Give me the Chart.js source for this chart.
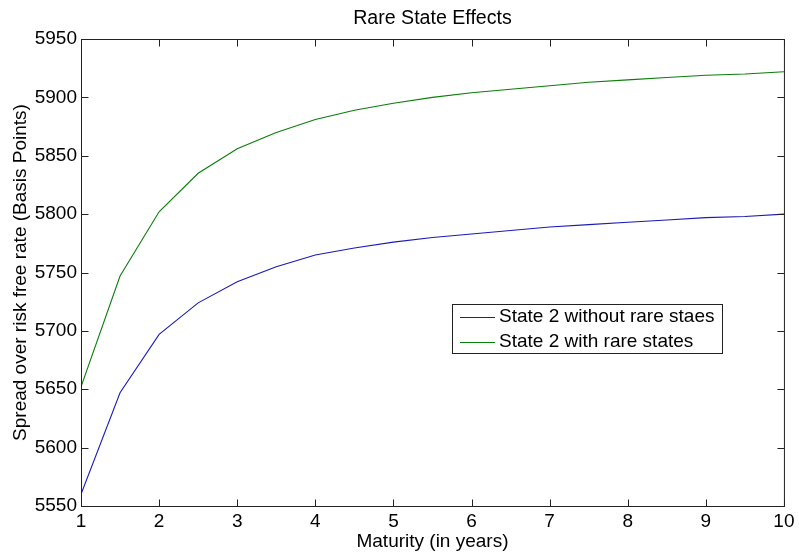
<!DOCTYPE html>
<html><head><meta charset="utf-8">
<script src="https://cdn.jsdelivr.net/npm/chart.js@4/dist/chart.umd.min.js"></script>
<style>html,body{margin:0;padding:0;background:#fff;}canvas{display:block;}</style>
</head><body>
<canvas id="c" width="799" height="553"></canvas>
<script>
const maturities = [1,1.5,2,2.5,3,3.5,4,4.5,5,5.5,6,6.5,7,7.5,8,8.5,9,9.5,10];
const withoutRare = [5560,5647,5697,5724,5742,5755,5765,5771,5776,5780,5783,5786,5789,5791,5793,5795,5797,5798,5800];
const withRare = [5652,5747,5802,5835,5856,5870,5881,5889,5895,5900,5904,5907,5910,5913,5915,5917,5919,5920,5922];
const xTicks = [1,2,3,4,5,6,7,8,9,10];
const yTicks = [5550,5600,5650,5700,5750,5800,5850,5900,5950];
const seriesLabels = ['State 2 without rare staes','State 2 with rare states'];
const chartTitle = 'Rare State Effects';

const FONT = "'Liberation Sans', Arial, Helvetica, sans-serif";

const boxPlugin = {
  id: 'matlabBox',
  afterDatasetsDraw(chart) {
    const {ctx, chartArea: a, scales} = chart;
    ctx.save();
    ctx.strokeStyle = '#222';
    ctx.lineWidth = 1;
    const L = a.left + 0.5, R = a.right + 0.5, T = a.top + 0.5, B = a.bottom + 0.5;
    ctx.strokeRect(L, T, R - L, B - T);
    const tl = 7;
    ctx.beginPath();
    scales.x.ticks.forEach(t => {
      const px = Math.round(scales.x.getPixelForValue(t.value)) + 0.5;
      ctx.moveTo(px, B); ctx.lineTo(px, B - tl);
      ctx.moveTo(px, T); ctx.lineTo(px, T + tl);
    });
    scales.y.ticks.forEach(t => {
      const py = Math.round(scales.y.getPixelForValue(t.value)) + 0.5;
      ctx.moveTo(L, py); ctx.lineTo(L + tl, py);
      ctx.moveTo(R, py); ctx.lineTo(R - tl, py);
    });
    ctx.stroke();

    // title centred over the axes
    ctx.fillStyle = '#000';
    ctx.font = '19.6px ' + FONT;
    ctx.textAlign = 'center';
    ctx.textBaseline = 'middle';
    ctx.fillText(chartTitle, (a.left + a.right) / 2, 19);

    // legend box
    ctx.textAlign = 'left';
    ctx.font = '19px ' + FONT;
    const ds = chart.data.datasets;
    const bx = 452.5, by = 304.5, rowH = 25.5, lineLen = 35;
    const textX = bx + 7.5 + lineLen + 4;
    let maxW = 0;
    ds.forEach(d => { maxW = Math.max(maxW, ctx.measureText(d.label).width); });
    const bw = Math.round(textX + maxW + 8 - bx);
    const bh = 49;
    ctx.fillStyle = '#fff';
    ctx.fillRect(bx, by, bw, bh);
    ctx.strokeStyle = '#222';
    ctx.strokeRect(bx, by, bw, bh);
    ds.forEach((d, i) => {
      const cy = by + 12 + i * rowH;
      ctx.strokeStyle = d.borderColor;
      ctx.beginPath();
      ctx.moveTo(bx + 7.5, Math.round(cy) + 0.5);
      ctx.lineTo(bx + 7.5 + lineLen, Math.round(cy) + 0.5);
      ctx.stroke();
      ctx.fillStyle = '#000';
      ctx.fillText(d.label, textX, cy);
    });
    ctx.restore();
  }
};

new Chart(document.getElementById('c'), {
  type: 'line',
  data: {
    datasets: [
      { label: seriesLabels[0], data: maturities.map((m, i) => ({x: m, y: withoutRare[i]})),
        borderColor: '#1a1ab8', borderWidth: 1.1, pointRadius: 0, tension: 0, fill: false },
      { label: seriesLabels[1], data: maturities.map((m, i) => ({x: m, y: withRare[i]})),
        borderColor: '#0a7d0a', borderWidth: 1.1, pointRadius: 0, tension: 0, fill: false }
    ]
  },
  options: {
    responsive: false,
    devicePixelRatio: 1,
    animation: false,
    layout: { padding: { left: 0, right: 13, top: 39, bottom: 0 } },
    plugins: {
      legend: { display: false },
      tooltip: { enabled: false },
      title: { display: false }
    },
    scales: {
      x: {
        type: 'linear', min: 1, max: 10,
        afterBuildTicks: s => { s.ticks = xTicks.map(v => ({value: v})); },
        afterFit: s => { s.height = 47; },
        grid: { display: false, drawTicks: false },
        border: { display: false },
        ticks: { color: '#000', padding: 4.5, maxRotation: 0, autoSkip: false,
                 callback: v => String(v),
                 font: { family: FONT, size: 19 } },
        title: { display: true, text: 'Maturity (in years)', color: '#000',
                 font: { family: FONT, size: 19 }, padding: { top: 0, bottom: 0 } }
      },
      y: {
        type: 'linear', min: 5550, max: 5950,
        afterBuildTicks: s => { s.ticks = yTicks.map(v => ({value: v})); },
        afterFit: s => { s.width = 81; },
        grid: { display: false, drawTicks: false },
        border: { display: false },
        ticks: { color: '#000', padding: 4, autoSkip: false,
                 callback: v => String(v),
                 font: { family: FONT, size: 19 } },
        title: { display: true, text: 'Spread over risk free rate (Basis Points)', color: '#000',
                 font: { family: FONT, size: 19 }, padding: { top: 9.6, bottom: 0 } }
      }
    }
  },
  plugins: [boxPlugin]
});
</script>
</body></html>
